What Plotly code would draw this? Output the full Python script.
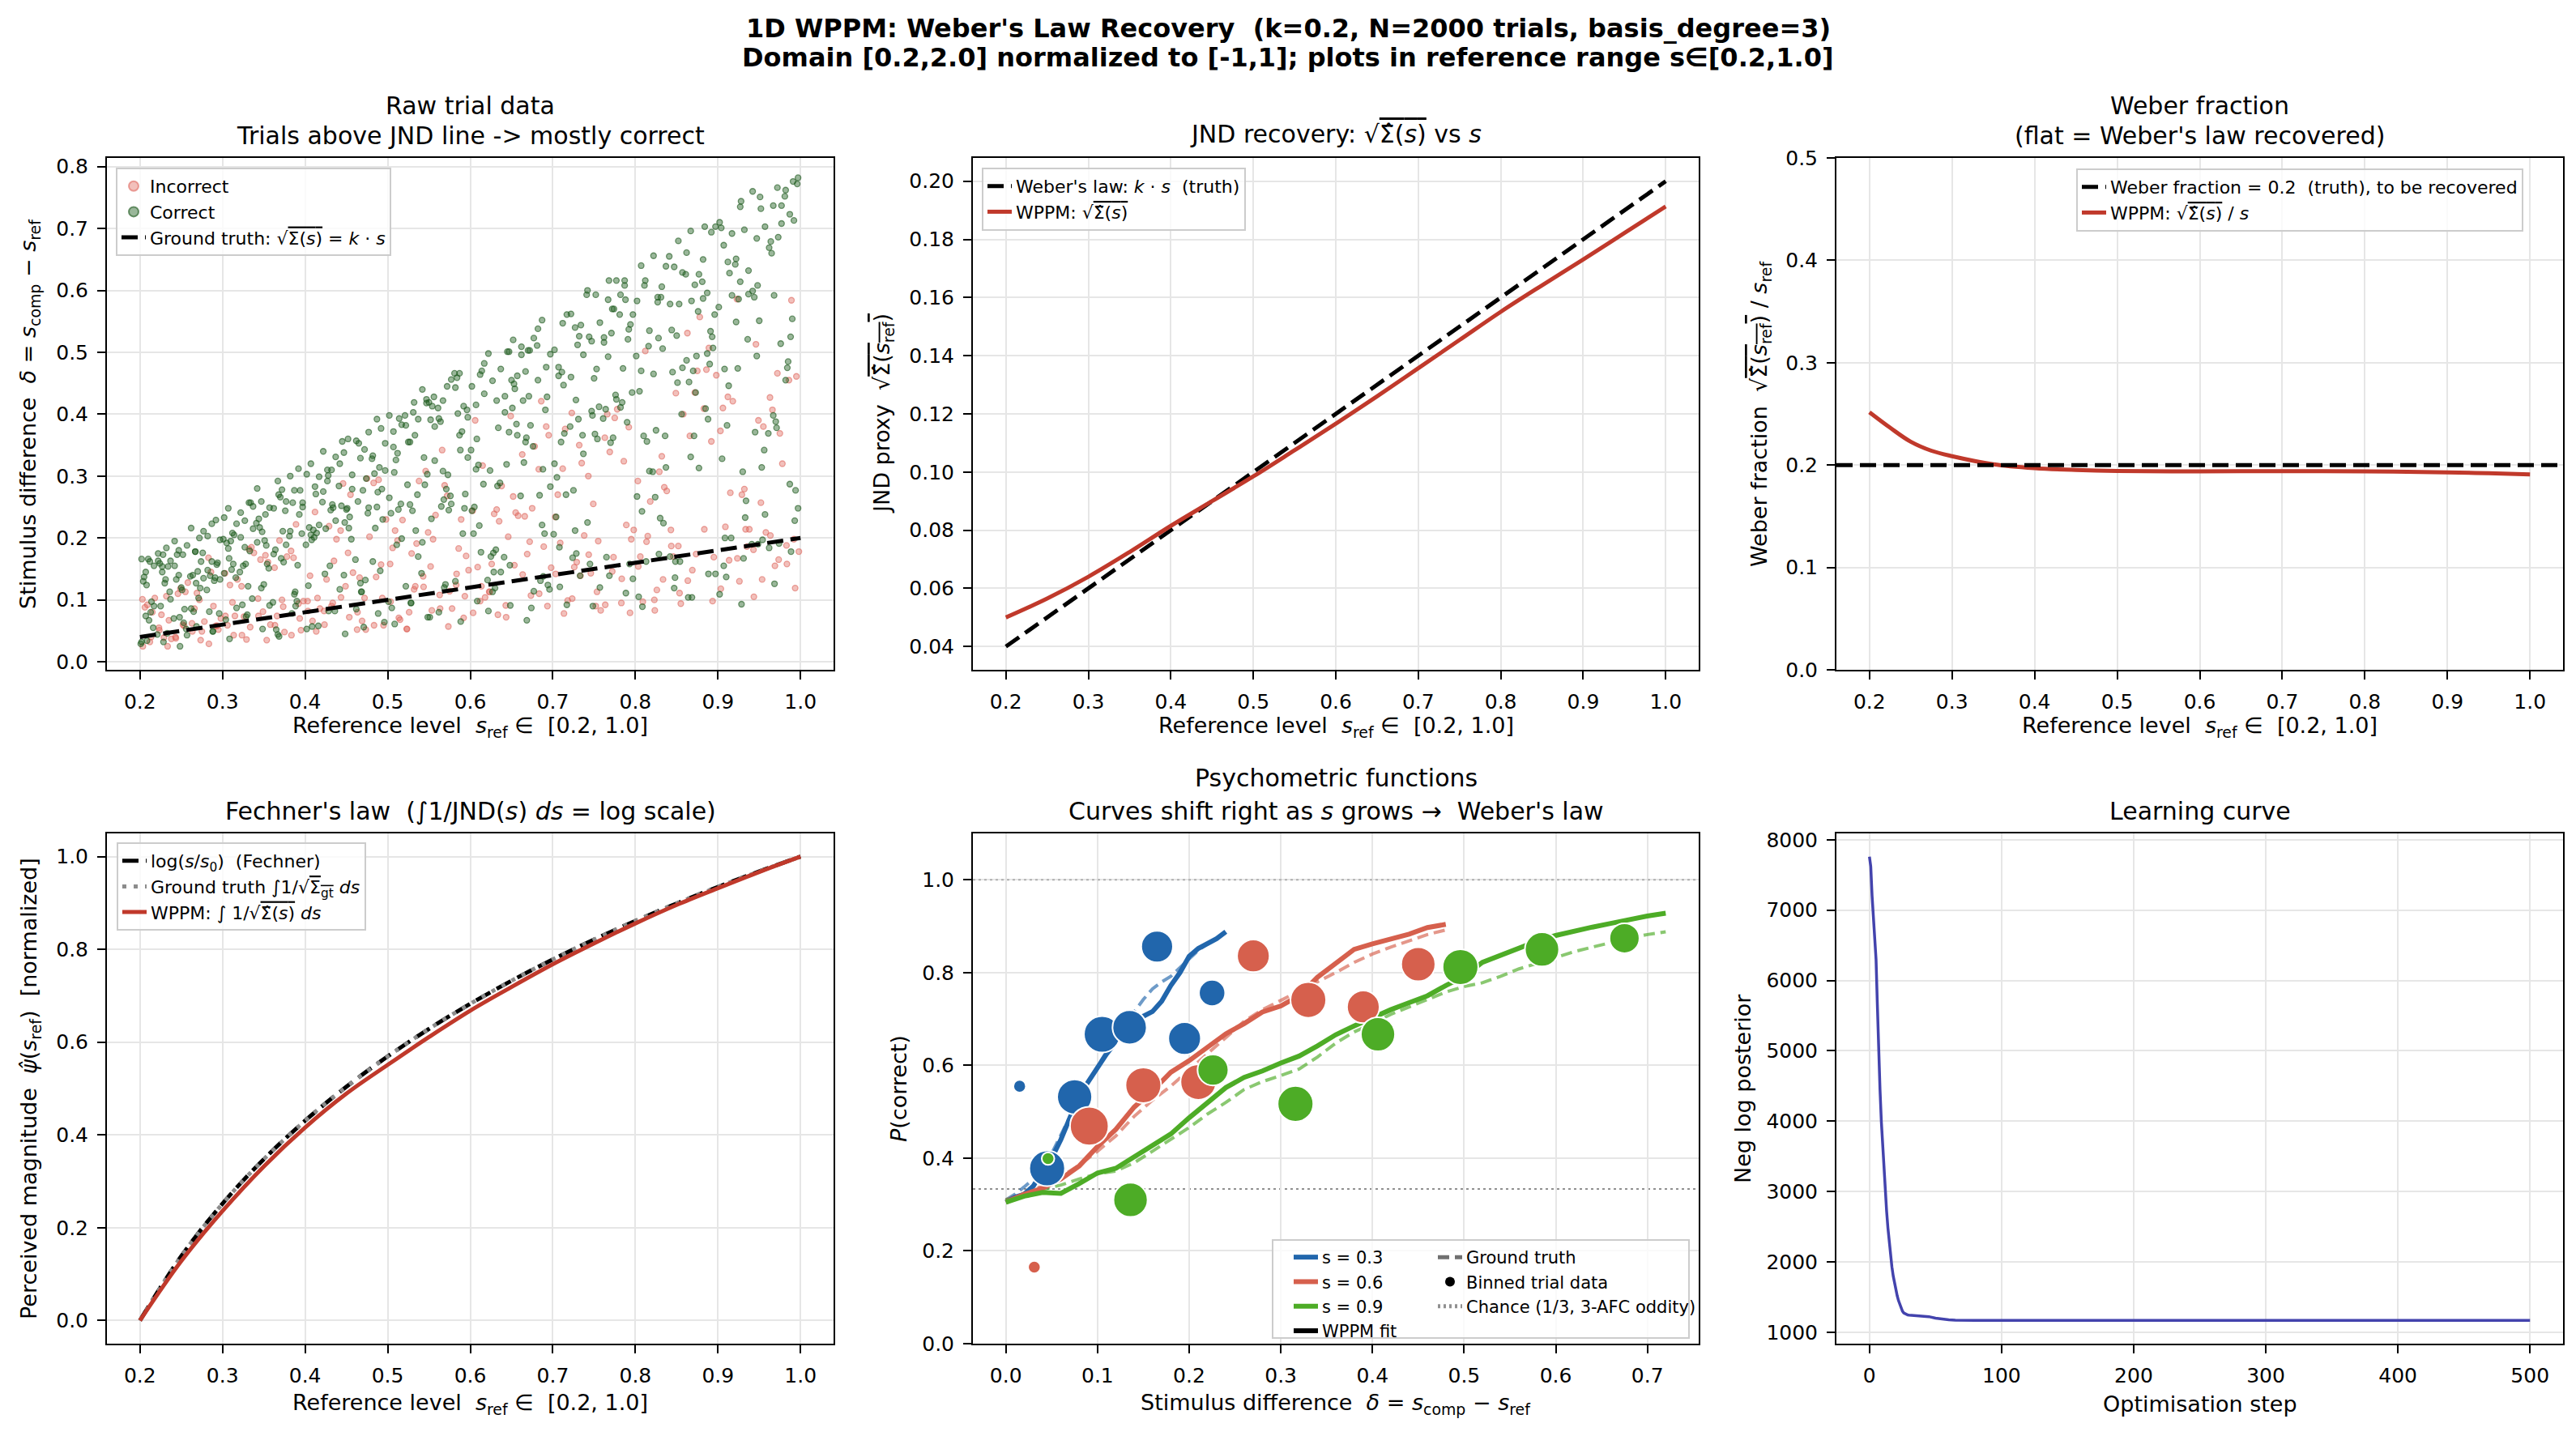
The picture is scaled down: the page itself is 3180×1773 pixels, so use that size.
import plotly.graph_objects as go

W, H = 3180, 1773
FONT = "DejaVu Sans"
NB = "\u00a0"

# ---------------- data ----------------
# Panel 1: raw trials (s_ref, delta) -- estimated subset of the point cloud
trials_correct = [
 (0.201,0.029),(0.202,0.032),(0.204,0.130),(0.205,0.137),(0.207,0.074),(0.208,0.124),(0.21,0.166),(0.211,0.067),(0.213,0.080),(0.214,0.097),(0.216,0.055),(0.217,0.090),
 (0.221,0.044),(0.222,0.163),(0.224,0.159),(0.225,0.090),(0.227,0.145),(0.228,0.173),(0.23,0.127),(0.231,0.133),(0.233,0.046),(0.234,0.154),(0.236,0.113),(0.237,0.101),
 (0.241,0.070),(0.242,0.155),(0.244,0.133),(0.245,0.173),(0.247,0.140),(0.248,0.072),(0.25,0.120),(0.251,0.116),(0.253,0.063),(0.254,0.085),(0.256,0.053),(0.257,0.043),
 (0.261,0.138),(0.262,0.086),(0.264,0.140),(0.265,0.081),(0.267,0.178),(0.268,0.127),(0.27,0.146),(0.271,0.103),(0.273,0.119),(0.274,0.162),(0.276,0.176),(0.277,0.135),
 (0.281,0.116),(0.282,0.148),(0.284,0.081),(0.285,0.139),(0.287,0.162),(0.288,0.049),(0.29,0.131),(0.291,0.136),(0.293,0.157),(0.294,0.160),(0.296,0.078),(0.297,0.133),
 (0.301,0.198),(0.302,0.143),(0.304,0.068),(0.305,0.192),(0.307,0.183),(0.308,0.167),(0.31,0.195),(0.311,0.149),(0.313,0.158),(0.314,0.205),(0.316,0.136),(0.317,0.087),
 (0.321,0.145),(0.322,0.201),(0.324,0.092),(0.325,0.155),(0.327,0.185),(0.328,0.158),(0.33,0.076),(0.331,0.122),(0.333,0.179),(0.334,0.257),(0.336,0.102),(0.337,0.215),
 (0.341,0.224),(0.342,0.193),(0.344,0.231),(0.345,0.217),(0.347,0.119),(0.348,0.210),(0.35,0.125),(0.351,0.196),(0.353,0.188),(0.354,0.158),(0.356,0.151),(0.357,0.091),
 (0.361,0.096),(0.362,0.174),(0.364,0.181),(0.365,0.052),(0.367,0.044),(0.368,0.270),(0.37,0.266),(0.371,0.167),(0.373,0.211),(0.374,0.161),(0.376,0.244),(0.377,0.189),
 (0.381,0.203),(0.382,0.211),(0.384,0.078),(0.385,0.257),(0.387,0.109),(0.388,0.113),(0.39,0.098),(0.391,0.156),(0.393,0.238),(0.394,0.277),(0.396,0.207),(0.397,0.250),
 (0.401,0.189),(0.402,0.053),(0.404,0.123),(0.405,0.217),(0.407,0.205),(0.408,0.197),(0.41,0.213),(0.411,0.201),(0.413,0.271),(0.414,0.208),(0.416,0.058),(0.417,0.221),
 (0.421,0.258),(0.422,0.275),(0.424,0.142),(0.425,0.215),(0.427,0.310),(0.428,0.301),(0.43,0.155),(0.431,0.245),(0.433,0.254),(0.434,0.249),(0.436,0.082),(0.437,0.228),
 (0.441,0.284),(0.442,0.117),(0.444,0.252),(0.445,0.356),(0.447,0.140),(0.448,0.225),(0.45,0.246),(0.451,0.248),(0.453,0.216),(0.454,0.234),(0.456,0.198),(0.457,0.279),
 (0.461,0.165),(0.462,0.085),(0.464,0.259),(0.465,0.353),(0.467,0.127),(0.468,0.113),(0.47,0.277),(0.471,0.056),(0.473,0.132),(0.474,0.296),(0.476,0.240),(0.477,0.249),
 (0.481,0.328),(0.482,0.162),(0.484,0.304),(0.485,0.216),(0.487,0.250),(0.488,0.274),(0.49,0.314),(0.491,0.147),(0.493,0.279),(0.494,0.230),(0.496,0.064),(0.497,0.309),
 (0.501,0.097),(0.502,0.265),(0.504,0.240),(0.505,0.087),(0.507,0.347),(0.508,0.306),(0.51,0.326),(0.511,0.189),(0.513,0.246),(0.514,0.393),(0.516,0.255),(0.517,0.199),
 (0.521,0.398),(0.522,0.122),(0.524,0.286),(0.525,0.355),(0.527,0.254),(0.528,0.095),(0.53,0.244),(0.531,0.403),(0.533,0.366),(0.534,0.212),(0.536,0.270),(0.537,0.170),
 (0.541,0.143),(0.542,0.193),(0.544,0.330),(0.545,0.286),(0.547,0.424),(0.548,0.303),(0.55,0.419),(0.551,0.072),(0.553,0.231),(0.554,0.413),(0.556,0.428),(0.557,0.325),
 (0.561,0.410),(0.562,0.080),(0.564,0.388),(0.565,0.251),(0.567,0.308),(0.568,0.262),(0.57,0.125),(0.571,0.279),(0.573,0.302),(0.574,0.245),(0.576,0.268),(0.577,0.255),
 (0.581,0.466),(0.582,0.130),(0.584,0.459),(0.585,0.401),(0.587,0.366),(0.588,0.342),(0.59,0.372),(0.591,0.207),(0.593,0.248),(0.594,0.271),(0.596,0.407),(0.597,0.330),
 (0.601,0.342),(0.602,0.244),(0.604,0.207),(0.605,0.250),(0.607,0.311),(0.608,0.360),(0.61,0.318),(0.611,0.220),(0.613,0.177),(0.614,0.470),(0.616,0.287),(0.617,0.433),
 (0.621,0.132),(0.622,0.082),(0.624,0.309),(0.625,0.170),(0.627,0.113),(0.628,0.176),(0.63,0.119),(0.631,0.181),(0.633,0.284),(0.634,0.378),(0.636,0.289),(0.637,0.145),
 (0.641,0.169),(0.642,0.403),(0.644,0.319),(0.645,0.501),(0.647,0.371),(0.648,0.156),(0.65,0.455),(0.651,0.410),(0.653,0.449),(0.654,0.441),(0.656,0.384),(0.657,0.366),
 (0.661,0.268),(0.662,0.509),(0.664,0.422),(0.665,0.322),(0.667,0.355),(0.668,0.362),(0.67,0.503),(0.671,0.429),(0.673,0.382),(0.674,0.087),(0.676,0.348),(0.677,0.114),
 (0.681,0.511),(0.682,0.455),(0.684,0.269),(0.685,0.131),(0.687,0.221),(0.688,0.311),(0.69,0.207),(0.691,0.407),(0.693,0.428),(0.694,0.124),(0.696,0.117),(0.697,0.283),
 (0.701,0.206),(0.702,0.320),(0.704,0.234),(0.705,0.298),(0.707,0.462),(0.708,0.185),(0.71,0.355),(0.711,0.468),(0.713,0.447),(0.714,0.369),(0.716,0.270),(0.717,0.092),
 (0.721,0.380),(0.722,0.460),(0.724,0.168),(0.725,0.277),(0.727,0.212),(0.728,0.423),(0.73,0.512),(0.731,0.392),(0.733,0.139),(0.734,0.544),(0.736,0.366),(0.737,0.336),
 (0.741,0.593),(0.742,0.225),(0.744,0.525),(0.745,0.158),(0.747,0.405),(0.748,0.398),(0.75,0.458),(0.751,0.368),(0.753,0.473),(0.754,0.360),(0.756,0.412),(0.757,0.120),
 (0.761,0.393),(0.762,0.524),(0.764,0.408),(0.765,0.169),(0.767,0.493),(0.768,0.616),(0.77,0.354),(0.771,0.531),(0.773,0.362),(0.774,0.570),(0.776,0.431),(0.777,0.424),
 (0.781,0.561),(0.782,0.411),(0.784,0.419),(0.785,0.474),(0.787,0.608),(0.788,0.585),(0.79,0.387),(0.791,0.521),(0.793,0.158),(0.794,0.545),(0.796,0.435),(0.797,0.134),
 (0.801,0.494),(0.802,0.267),(0.804,0.105),(0.805,0.437),(0.807,0.470),(0.808,0.243),(0.81,0.365),(0.811,0.608),(0.813,0.162),(0.814,0.356),(0.816,0.510),(0.817,0.308),
 (0.821,0.307),(0.822,0.465),(0.824,0.266),(0.825,0.374),(0.827,0.581),(0.828,0.523),(0.83,0.232),(0.831,0.589),(0.833,0.506),(0.834,0.224),(0.836,0.365),(0.837,0.314),
 (0.841,0.655),(0.842,0.170),(0.844,0.536),(0.845,0.468),(0.847,0.119),(0.848,0.136),(0.85,0.527),(0.851,0.451),(0.853,0.578),(0.854,0.162),(0.856,0.400),(0.857,0.475),
 (0.861,0.626),(0.862,0.487),(0.864,0.104),(0.865,0.452),(0.867,0.331),(0.868,0.583),(0.87,0.470),(0.871,0.365),(0.873,0.435),(0.874,0.494),(0.876,0.566),(0.877,0.313),
 (0.881,0.614),(0.882,0.587),(0.884,0.703),(0.885,0.409),(0.887,0.498),(0.888,0.392),(0.89,0.481),(0.891,0.534),(0.893,0.525),(0.894,0.507),(0.896,0.561),(0.897,0.142),
 (0.901,0.573),(0.902,0.109),(0.904,0.701),(0.905,0.328),(0.907,0.155),(0.908,0.473),(0.91,0.137),(0.911,0.382),(0.913,0.446),(0.914,0.628),(0.916,0.200),(0.917,0.592),
 (0.921,0.642),(0.922,0.549),(0.924,0.474),(0.925,0.586),(0.927,0.614),(0.928,0.744),(0.93,0.307),(0.931,0.167),(0.933,0.233),(0.934,0.260),(0.936,0.521),(0.937,0.594),
 (0.941,0.190),(0.942,0.599),(0.944,0.589),(0.945,0.371),(0.947,0.494),(0.948,0.608),(0.95,0.551),(0.951,0.751),(0.953,0.314),(0.954,0.197),(0.956,0.342),(0.957,0.238),
 (0.961,0.369),(0.962,0.184),(0.964,0.679),(0.965,0.660),(0.967,0.398),(0.968,0.592),(0.97,0.388),(0.971,0.378),(0.973,0.686),(0.974,0.191),(0.976,0.514),(0.977,0.737),
 (0.981,0.752),(0.982,0.455),(0.984,0.475),(0.985,0.485),(0.987,0.287),(0.988,0.525),(0.99,0.554),(0.991,0.776),(0.993,0.228),(0.994,0.277),(0.996,0.772),(0.997,0.248),
]
trials_correct_upper = [
 (0.202,0.166),(0.207,0.145),(0.212,0.162),(0.217,0.155),(0.222,0.175),(0.227,0.154),(0.232,0.184),(0.237,0.163),
 (0.242,0.195),(0.247,0.180),(0.252,0.173),(0.257,0.188),(0.262,0.216),(0.267,0.178),(0.272,0.200),(0.277,0.211),
 (0.282,0.203),(0.287,0.223),(0.292,0.229),(0.297,0.197),(0.302,0.233),(0.307,0.248),(0.312,0.208),(0.317,0.223),
 (0.322,0.241),(0.327,0.228),(0.332,0.257),(0.337,0.251),(0.342,0.280),(0.347,0.259),(0.352,0.238),(0.357,0.249),
 (0.362,0.248),(0.367,0.292),(0.372,0.278),(0.377,0.259),(0.382,0.300),(0.387,0.277),(0.392,0.312),(0.397,0.257),
 (0.402,0.303),(0.407,0.320),(0.412,0.283),(0.417,0.299),(0.422,0.340),(0.427,0.292),(0.432,0.310),(0.437,0.331),
 (0.442,0.320),(0.447,0.338),(0.452,0.360),(0.457,0.302),(0.462,0.357),(0.467,0.329),(0.472,0.343),(0.477,0.371),
 (0.482,0.333),(0.487,0.392),(0.492,0.377),(0.497,0.353),(0.502,0.398),(0.507,0.372),(0.512,0.337),(0.517,0.383),
 (0.522,0.382),(0.527,0.355),(0.532,0.419),(0.537,0.392),(0.542,0.440),(0.547,0.418),(0.552,0.391),(0.557,0.380),
 (0.562,0.393),(0.567,0.422),(0.572,0.445),(0.577,0.456),(0.582,0.443),(0.587,0.466),(0.592,0.413),(0.597,0.395),
 (0.602,0.445),(0.607,0.415),(0.612,0.464),(0.617,0.482),(0.622,0.498),(0.627,0.454),(0.632,0.422),(0.637,0.473),
 (0.642,0.429),(0.647,0.501),(0.652,0.520),(0.657,0.462),(0.662,0.496),(0.667,0.469),(0.672,0.503),(0.677,0.523),
 (0.682,0.538),(0.687,0.552),(0.692,0.476),(0.697,0.497),(0.702,0.504),(0.707,0.476),(0.712,0.547),(0.717,0.561),
 (0.722,0.562),(0.727,0.540),(0.732,0.526),(0.737,0.496),(0.742,0.600),(0.747,0.518),(0.752,0.593),(0.757,0.548),
 (0.762,0.516),(0.767,0.585),(0.772,0.570),(0.777,0.616),(0.782,0.593),(0.787,0.616),(0.792,0.537),(0.797,0.561),
 (0.802,0.583),(0.807,0.640),(0.812,0.616),(0.817,0.535),(0.822,0.656),(0.827,0.589),(0.832,0.606),(0.837,0.639),
 (0.842,0.578),(0.847,0.638),(0.852,0.680),(0.857,0.629),(0.862,0.661),(0.867,0.696),(0.872,0.609),(0.877,0.626),
 (0.882,0.650),(0.887,0.596),(0.892,0.694),(0.897,0.703),(0.902,0.710),(0.907,0.673),(0.912,0.646),(0.917,0.692),
 (0.922,0.651),(0.927,0.735),(0.932,0.698),(0.937,0.632),(0.942,0.760),(0.947,0.684),(0.952,0.732),(0.957,0.703),
 (0.962,0.669),(0.967,0.737),(0.972,0.766),(0.977,0.708),(0.982,0.762),(0.987,0.723),(0.992,0.713),(0.997,0.782),
]
trials_correct_low = [
 (0.2085,0.034),(0.2285,0.032),(0.2485,0.025),(0.2685,0.057),(0.2885,0.049),(0.3085,0.037),(0.3285,0.073),(0.3485,0.053),
 (0.3685,0.041),(0.3885,0.090),(0.4085,0.057),(0.4285,0.082),(0.4485,0.045),(0.4685,0.113),(0.4885,0.078),(0.5085,0.061),
 (0.5285,0.095),(0.5485,0.072),(0.5685,0.120),(0.5885,0.065),(0.6085,0.098),(0.6285,0.145),(0.6485,0.091),(0.6685,0.067),
 (0.6885,0.138),(0.7085,0.121),(0.7285,0.175),(0.7485,0.090),(0.7685,0.139),(0.7885,0.111),(0.8085,0.089),(0.8285,0.174),
 (0.8485,0.162),(0.8685,0.104),(0.8885,0.142),(0.9085,0.200),(0.9285,0.093),(0.9485,0.190),(0.9685,0.126),(0.9885,0.178),
]
trials_incorrect = [
 (0.203,0.101),(0.206,0.088),(0.209,0.092),(0.212,0.032),(0.215,0.080),(0.218,0.103),
 (0.223,0.055),(0.226,0.076),(0.229,0.039),(0.232,0.106),(0.235,0.067),(0.238,0.037),
 (0.243,0.040),(0.246,0.110),(0.249,0.118),(0.252,0.060),(0.255,0.113),(0.258,0.128),
 (0.263,0.062),(0.266,0.086),(0.269,0.111),(0.272,0.100),(0.275,0.049),(0.278,0.065),
 (0.283,0.168),(0.286,0.145),(0.289,0.090),(0.292,0.058),(0.295,0.052),(0.298,0.070),
 (0.303,0.143),(0.306,0.059),(0.309,0.124),(0.312,0.096),(0.315,0.074),(0.318,0.133),
 (0.323,0.122),(0.326,0.073),(0.329,0.036),(0.332,0.182),(0.335,0.185),(0.338,0.176),
 (0.343,0.102),(0.346,0.165),(0.349,0.081),(0.352,0.172),(0.355,0.161),(0.358,0.060),
 (0.363,0.152),(0.366,0.074),(0.369,0.196),(0.372,0.100),(0.375,0.048),(0.378,0.170),
 (0.383,0.179),(0.386,0.168),(0.389,0.222),(0.392,0.094),(0.395,0.051),(0.398,0.098),
 (0.403,0.098),(0.406,0.139),(0.409,0.066),(0.412,0.242),(0.415,0.103),(0.418,0.086),
 (0.423,0.082),(0.426,0.133),(0.429,0.219),(0.432,0.090),(0.435,0.163),(0.438,0.198),
 (0.443,0.212),(0.446,0.288),(0.449,0.122),(0.452,0.176),(0.455,0.270),(0.458,0.144),
 (0.463,0.052),(0.466,0.136),(0.469,0.066),(0.472,0.103),(0.475,0.296),(0.478,0.202),
 (0.483,0.289),(0.486,0.137),(0.489,0.294),(0.492,0.157),(0.495,0.059),(0.498,0.230),
 (0.503,0.158),(0.506,0.184),(0.509,0.212),(0.512,0.196),(0.515,0.068),(0.518,0.229),
 (0.523,0.053),(0.526,0.080),(0.529,0.175),(0.532,0.117),(0.535,0.191),(0.538,0.292),
 (0.543,0.138),(0.546,0.308),(0.549,0.209),(0.552,0.154),(0.555,0.198),(0.558,0.237),
 (0.563,0.108),(0.566,0.342),(0.569,0.285),(0.572,0.268),(0.575,0.114),(0.578,0.086),
 (0.583,0.124),(0.586,0.183),(0.589,0.230),(0.592,0.071),(0.595,0.171),(0.598,0.148),
 (0.603,0.244),(0.606,0.390),(0.609,0.153),(0.612,0.098),(0.615,0.317),(0.618,0.104),
 (0.623,0.113),(0.626,0.158),(0.629,0.239),(0.632,0.246),(0.635,0.227),(0.638,0.284),
 (0.643,0.091),(0.646,0.202),(0.649,0.397),(0.652,0.267),(0.655,0.241),(0.658,0.236),
 (0.663,0.335),(0.666,0.235),(0.669,0.174),(0.672,0.194),(0.675,0.248),(0.678,0.348),
 (0.683,0.311),(0.686,0.421),(0.689,0.186),(0.692,0.380),(0.695,0.366),(0.698,0.152),
 (0.703,0.234),(0.706,0.270),(0.709,0.192),(0.712,0.312),(0.715,0.376),(0.718,0.099),
 (0.723,0.402),(0.726,0.153),(0.729,0.161),(0.732,0.350),(0.735,0.321),(0.738,0.204),
 (0.743,0.300),(0.746,0.143),(0.749,0.255),(0.752,0.090),(0.755,0.195),(0.758,0.083),
 (0.763,0.362),(0.766,0.400),(0.769,0.339),(0.772,0.146),(0.775,0.394),(0.778,0.408),
 (0.783,0.095),(0.786,0.324),(0.789,0.221),(0.792,0.379),(0.795,0.198),(0.798,0.213),
 (0.803,0.292),(0.806,0.170),(0.809,0.097),(0.812,0.502),(0.815,0.203),(0.818,0.259),
 (0.823,0.100),(0.826,0.116),(0.829,0.307),(0.832,0.332),(0.835,0.282),(0.838,0.276),
 (0.843,0.213),(0.846,0.170),(0.849,0.434),(0.852,0.187),(0.855,0.094),(0.858,0.400),
 (0.863,0.531),(0.866,0.365),(0.869,0.148),(0.872,0.435),(0.875,0.470),(0.878,0.557),
 (0.883,0.409),(0.886,0.472),(0.889,0.507),(0.892,0.356),(0.895,0.169),(0.898,0.463),
 (0.903,0.373),(0.906,0.410),(0.909,0.218),(0.912,0.428),(0.915,0.273),(0.918,0.421),
 (0.923,0.586),(0.926,0.130),(0.929,0.270),(0.932,0.279),(0.935,0.186),(0.938,0.214),
 (0.943,0.181),(0.946,0.513),(0.949,0.390),(0.952,0.257),(0.955,0.380),(0.958,0.209),
 (0.963,0.427),(0.966,0.407),(0.969,0.155),(0.972,0.466),(0.975,0.369),(0.978,0.320),
 (0.983,0.188),(0.986,0.455),(0.989,0.584),(0.992,0.198),(0.995,0.461),(0.998,0.178),
]
trials_incorrect_low = [
 (0.2035,0.025),(0.2135,0.040),(0.2235,0.051),(0.2335,0.025),(0.2435,0.038),(0.2535,0.058),(0.2635,0.049),(0.2735,0.035),
 (0.2835,0.029),(0.2935,0.058),(0.3035,0.074),(0.3135,0.043),(0.3235,0.043),(0.3335,0.056),(0.3435,0.074),(0.3535,0.035),
 (0.3635,0.059),(0.3735,0.089),(0.3835,0.043),(0.3935,0.070),(0.4035,0.082),(0.4135,0.049),(0.4235,0.060),(0.4335,0.095),
 (0.4435,0.104),(0.4535,0.072),(0.4635,0.080),(0.4735,0.052),(0.4835,0.059),(0.4935,0.103),(0.5035,0.097),(0.5135,0.071),
 (0.5235,0.053),(0.5335,0.122),(0.5435,0.121),(0.5535,0.083),(0.5635,0.086),(0.5735,0.057),(0.5835,0.142),(0.5935,0.106),
 (0.6035,0.079),(0.6135,0.122),(0.6235,0.113),(0.6335,0.076),(0.6435,0.072),(0.6535,0.156),(0.6635,0.141),(0.6735,0.107),
 (0.6835,0.110),(0.6935,0.090),(0.7035,0.142),(0.7135,0.078),(0.7235,0.102),(0.7335,0.139),(0.7435,0.173),(0.7535,0.113),
 (0.7635,0.092),(0.7735,0.169),(0.7835,0.134),(0.7935,0.079),(0.8035,0.154),(0.8135,0.194),(0.8235,0.083),(0.8335,0.133),
 (0.8435,0.187),(0.8535,0.111),(0.8635,0.131),(0.8735,0.174),(0.8835,0.214),(0.8935,0.098),(0.9035,0.118),(0.9135,0.164),
 (0.9235,0.167),(0.9335,0.214),(0.9435,0.105),(0.9535,0.133),(0.9635,0.204),(0.9735,0.165),(0.9835,0.158),(0.9935,0.119),
]
gt_s = [0.2, 1.0]
gt_jnd = [0.04, 0.2]

# Panel 2: JND recovery
jnd_s = [0.2, 0.25, 0.3, 0.35, 0.4, 0.45, 0.5, 0.55, 0.6, 0.65, 0.7, 0.75, 0.8, 0.85, 0.9, 0.95, 1.0]
jnd_wppm = [0.050, 0.0565, 0.064, 0.0725, 0.0815, 0.090, 0.0985, 0.1075, 0.1166, 0.126, 0.1357,
            0.1454, 0.1551, 0.1642, 0.1731, 0.1822, 0.1913]

# Panel 3: Weber fraction
WEBER_K = 0.2
wf_s = [0.2, 0.225, 0.25, 0.275, 0.3, 0.35, 0.4, 0.45, 0.5, 0.6, 0.7, 0.8, 0.9, 0.95, 1.0]
wf_wppm = [0.2516, 0.2365, 0.2228, 0.2140, 0.2087, 0.2008, 0.1970, 0.1952, 0.1942, 0.1938,
           0.1941, 0.1939, 0.1928, 0.1920, 0.1909]

# Panel 4: Fechner
fe_s = [0.2, 0.25, 0.3, 0.35, 0.4, 0.45, 0.5, 0.55, 0.6, 0.65, 0.7, 0.75, 0.8, 0.85, 0.9, 0.95, 1.0]
fe_log = [0.0, 0.1386, 0.2519, 0.3477, 0.4307, 0.5039, 0.5693, 0.6286, 0.6826, 0.7324, 0.7784,
          0.8213, 0.8614, 0.8990, 0.9346, 0.9681, 1.0]
fe_gt = [0.0, 0.1386, 0.2519, 0.3477, 0.4307, 0.5039, 0.5693, 0.6286, 0.6826, 0.7324, 0.7784,
         0.8213, 0.8614, 0.8990, 0.9346, 0.9681, 1.0]
fe_wppm = [0.0, 0.128, 0.236, 0.332, 0.416, 0.489, 0.551, 0.611, 0.668, 0.719, 0.768, 0.813,
           0.856, 0.896, 0.932, 0.967, 1.0]

# Panel 5: psychometric functions
psy_d_03 = [0, 0.01, 0.02, 0.03, 0.04, 0.05, 0.06, 0.07, 0.08, 0.09, 0.10, 0.11, 0.12, 0.13,
            0.14, 0.15, 0.16, 0.17, 0.18, 0.19, 0.20, 0.21, 0.22, 0.23, 0.24]
psy_fit_03 = [0.305, 0.316, 0.322, 0.34, 0.372, 0.40, 0.44, 0.49, 0.535, 0.565, 0.595, 0.625, 0.65,
              0.675, 0.698, 0.706, 0.716, 0.738, 0.772, 0.80, 0.835, 0.852, 0.862, 0.873, 0.888]
psy_gt_03 = [0.31, 0.322, 0.338, 0.355, 0.38, 0.41, 0.45, 0.49, 0.53, 0.565, 0.598, 0.63, 0.658,
             0.685, 0.715, 0.742, 0.765, 0.78, 0.792, 0.81, 0.83, 0.848, 0.862, 0.874, 0.886]
psy_d_06 = [0, 0.02, 0.04, 0.06, 0.08, 0.10, 0.12, 0.14, 0.16, 0.18, 0.20, 0.22, 0.24, 0.26,
            0.28, 0.30, 0.32, 0.34, 0.36, 0.38, 0.40, 0.42, 0.44, 0.46, 0.48]
psy_fit_06 = [0.305, 0.322, 0.335, 0.355, 0.383, 0.425, 0.462, 0.51, 0.545, 0.585, 0.61, 0.64, 0.668,
              0.69, 0.715, 0.728, 0.75, 0.79, 0.82, 0.85, 0.862, 0.872, 0.883, 0.897, 0.904]
psy_gt_06 = [0.31, 0.325, 0.34, 0.36, 0.385, 0.415, 0.448, 0.49, 0.525, 0.555, 0.59, 0.625, 0.66,
             0.695, 0.72, 0.74, 0.76, 0.78, 0.80, 0.822, 0.84, 0.855, 0.868, 0.882, 0.892]
psy_d_09 = [0, 0.02, 0.04, 0.06, 0.08, 0.10, 0.12, 0.14, 0.16, 0.18, 0.20, 0.22, 0.24, 0.26, 0.28,
            0.30, 0.32, 0.34, 0.36, 0.38, 0.40, 0.42, 0.44, 0.46, 0.48, 0.50, 0.52, 0.54, 0.56,
            0.58, 0.60, 0.62, 0.64, 0.66, 0.68, 0.70, 0.72]
psy_fit_09 = [0.305, 0.318, 0.326, 0.324, 0.345, 0.368, 0.378, 0.402, 0.425, 0.452, 0.487, 0.52,
              0.552, 0.574, 0.588, 0.605, 0.62, 0.642, 0.666, 0.685, 0.703, 0.72, 0.735, 0.75,
              0.772, 0.792, 0.822, 0.837, 0.851, 0.868, 0.88, 0.89, 0.898, 0.906, 0.915, 0.922, 0.928]
psy_gt_09 = [0.31, 0.32, 0.332, 0.342, 0.355, 0.366, 0.372, 0.39, 0.415, 0.44, 0.466, 0.495, 0.52,
             0.548, 0.565, 0.578, 0.592, 0.618, 0.648, 0.672, 0.69, 0.71, 0.726, 0.742, 0.758,
             0.77, 0.778, 0.792, 0.808, 0.82, 0.832, 0.845, 0.855, 0.865, 0.874, 0.882, 0.888]

bin_d_03 = [0.015, 0.045, 0.075, 0.105, 0.135, 0.165, 0.195, 0.225]
bin_p_03 = [0.555, 0.378, 0.532, 0.667, 0.682, 0.856, 0.658, 0.756]
bin_n_03 = [3, 24, 23, 25, 22, 19, 20, 13]
bin_d_06 = [0.031, 0.091, 0.15, 0.21, 0.27, 0.33, 0.39, 0.45]
bin_p_06 = [0.165, 0.469, 0.557, 0.564, 0.836, 0.741, 0.726, 0.818]
bin_n_06 = [3, 28, 24, 24, 20, 24, 20, 22]
bin_d_09 = [0.046, 0.136, 0.226, 0.316, 0.406, 0.496, 0.585, 0.675]
bin_p_09 = [0.399, 0.31, 0.59, 0.517, 0.667, 0.812, 0.85, 0.874]
bin_n_09 = [3, 22, 18, 24, 22, 24, 22, 17]
CHANCE = 1 / 3

# Panel 6: learning curve
lc_step = list(range(0, 31)) + [35, 40, 45, 50, 55, 60, 65, 70, 80, 100, 120, 140, 160, 180, 200,
                                220, 240, 260, 280, 300, 320, 340, 360, 380, 400, 420, 440, 460,
                                480, 500]
lc_val = [7760, 7620, 7200, 6900, 6600, 6300, 5650, 4950, 4450, 4000, 3650, 3300, 2980, 2720, 2480,
          2260, 2080, 1930, 1800, 1690, 1600, 1520, 1450, 1390, 1340, 1300, 1275, 1262, 1252, 1246,
          1243, 1238, 1232, 1222, 1200, 1186, 1178, 1172, 1170, 1169, 1168, 1169, 1168, 1167, 1168,
          1169, 1168, 1167, 1168, 1168, 1169, 1168, 1167, 1168, 1168, 1169, 1168, 1168, 1167, 1168,
          1168]

ref_ticks = [0.2, 0.3, 0.4, 0.5, 0.6, 0.7, 0.8, 0.9, 1.0]

# ---------------- figure ----------------
C_RED = "#c0392b"
C_B, C_R, C_G = "#2166ac", "#d6604d", "#4dac26"
DASH = "20px,9px"
OVL = "<span style='text-decoration:overline'>"

fig = go.Figure()

# Panel 1
inc_all = trials_incorrect + trials_incorrect_low
cor_all = trials_correct + trials_correct_upper + trials_correct_low
fig.add_trace(go.Scatter(
    x=[p[0] for p in inc_all], y=[p[1] for p in inc_all], mode="markers",
    name="Incorrect", legend="legend",
    marker=dict(size=7, color="rgba(225,105,92,0.42)", line=dict(width=1.3, color="rgba(220,95,85,0.55)")),
    xaxis="x", yaxis="y"))
fig.add_trace(go.Scatter(
    x=[p[0] for p in cor_all], y=[p[1] for p in cor_all], mode="markers",
    name="Correct", legend="legend",
    marker=dict(size=7, color="rgba(30,95,30,0.45)", line=dict(width=1.3, color="rgba(25,85,25,0.6)")),
    xaxis="x", yaxis="y"))
fig.add_trace(go.Scatter(
    x=gt_s, y=gt_jnd, mode="lines", legend="legend",
    name="Ground truth: √" + OVL + "Σ(<i>s</i>)</span>" + NB + "=" + NB + "<i>k</i>" + NB + "·" + NB + "<i>s</i>",
    line=dict(color="black", width=5, dash=DASH), xaxis="x", yaxis="y"))

# Panel 2
fig.add_trace(go.Scatter(
    x=gt_s, y=gt_jnd, mode="lines", legend="legend2",
    name="Weber's law: <i>k</i> · <i>s</i>" + NB * 2 + "(truth)",
    line=dict(color="black", width=5, dash=DASH), xaxis="x2", yaxis="y2"))
fig.add_trace(go.Scatter(
    x=jnd_s, y=jnd_wppm, mode="lines", legend="legend2", line_shape="spline",
    name="WPPM: √" + OVL + "Σ̂(<i>s</i>)</span>",
    line=dict(color=C_RED, width=5), xaxis="x2", yaxis="y2"))

# Panel 3
fig.add_trace(go.Scatter(
    x=[None], y=[None], mode="lines", legend="legend3",
    name="Weber fraction = 0.2" + NB * 2 + "(truth), to be recovered",
    line=dict(color="black", width=5, dash=DASH), xaxis="x3", yaxis="y3"))
fig.add_trace(go.Scatter(
    x=wf_s, y=wf_wppm, mode="lines", legend="legend3", line_shape="spline",
    name="WPPM: √" + OVL + "Σ̂(<i>s</i>)</span> / <i>s</i>",
    line=dict(color=C_RED, width=5), xaxis="x3", yaxis="y3"))

# Panel 4
fig.add_trace(go.Scatter(
    x=fe_s, y=fe_log, mode="lines", legend="legend4", line_shape="spline",
    name="log(<i>s</i>/<i>s</i><sub>0</sub>)" + NB * 2 + "(Fechner)",
    line=dict(color="black", width=5, dash=DASH), xaxis="x4", yaxis="y4"))
fig.add_trace(go.Scatter(
    x=fe_s, y=fe_gt, mode="lines", legend="legend4", line_shape="spline",
    name="Ground truth ∫1/√" + OVL + "Σ<sub>gt</sub></span> <i>ds</i>",
    line=dict(color="#8c8c8c", width=5, dash="5px,9px"), xaxis="x4", yaxis="y4"))
fig.add_trace(go.Scatter(
    x=fe_s, y=fe_wppm, mode="lines", legend="legend4", line_shape="spline",
    name="WPPM: ∫ 1/√" + OVL + "Σ̂(<i>s</i>)</span> <i>ds</i>",
    line=dict(color=C_RED, width=5), xaxis="x4", yaxis="y4"))

# Panel 5
for d, gt, col in [(psy_d_03, psy_gt_03, C_B), (psy_d_06, psy_gt_06, C_R), (psy_d_09, psy_gt_09, C_G)]:
    fig.add_trace(go.Scatter(x=d, y=gt, mode="lines", showlegend=False, opacity=0.65,
                             line=dict(color=col, width=4, dash="14px,7px"), xaxis="x5", yaxis="y5"))
for d, fit, col, nm in [(psy_d_03, psy_fit_03, C_B, "s = 0.3"), (psy_d_06, psy_fit_06, C_R, "s = 0.6"),
                        (psy_d_09, psy_fit_09, C_G, "s = 0.9")]:
    fig.add_trace(go.Scatter(x=d, y=fit, mode="lines", name=nm, legend="legend5",
                             line=dict(color=col, width=6), xaxis="x5", yaxis="y5"))
for d, p, n, col in [(bin_d_03, bin_p_03, bin_n_03, C_B), (bin_d_06, bin_p_06, bin_n_06, C_R),
                     (bin_d_09, bin_p_09, bin_n_09, C_G)]:
    fig.add_trace(go.Scatter(x=d, y=p, mode="markers", showlegend=False,
                             marker=dict(size=[9 * v ** 0.5 for v in n], color=col, opacity=1,
                                         line=dict(color="white", width=2)),
                             xaxis="x5", yaxis="y5"))
fig.add_trace(go.Scatter(x=[None], y=[None], mode="lines", name="WPPM fit", legend="legend5",
                         line=dict(color="black", width=6), xaxis="x5", yaxis="y5"))
fig.add_trace(go.Scatter(x=[None], y=[None], mode="lines", name="Ground truth", legend="legend6",
                         line=dict(color="#707070", width=4, dash="14px,7px"), xaxis="x5", yaxis="y5"))
fig.add_trace(go.Scatter(x=[None], y=[None], mode="markers", name="Binned trial data", legend="legend6",
                         marker=dict(color="black", size=16), xaxis="x5", yaxis="y5"))
fig.add_trace(go.Scatter(x=[None], y=[None], mode="lines", name="Chance (1/3, 3-AFC oddity)",
                         legend="legend6", line=dict(color="#909090", width=2, dash="3px,4px"),
                         xaxis="x5", yaxis="y5"))

# Panel 6
fig.add_trace(go.Scatter(x=lc_step, y=lc_val, mode="lines", showlegend=False,
                         line=dict(color="#4343ad", width=3.5), xaxis="x6", yaxis="y6"))

# ---------------- layout ----------------
COLS = [(132, 1029), (1201, 2097), (2267, 3164)]
ROWS = [(195, 827), (1029, 1659)]


def xdom(c):
    return [COLS[c][0] / W, COLS[c][1] / W]


def ydom(r):
    return [1 - ROWS[r][1] / H, 1 - ROWS[r][0] / H]


def ax(**kw):
    d = dict(showline=True, linecolor="black", linewidth=2, mirror=True,
             ticks="outside", ticklen=10, tickwidth=2, tickcolor="black",
             showgrid=True, gridcolor="#e6e6e6", gridwidth=2, zeroline=False,
             tickfont=dict(size=25, color="black", family=FONT),
             automargin=False, ticklabelstandoff=6)
    d.update(kw)
    return d


fig.update_layout(
    width=W, height=H, margin=dict(l=0, r=0, t=0, b=0),
    paper_bgcolor="white", plot_bgcolor="white",
    font=dict(family=FONT, color="black"),
    xaxis=ax(domain=xdom(0), anchor="y", range=[0.16, 1.04], tickvals=ref_ticks, tickformat=".1f"),
    yaxis=ax(domain=ydom(0), anchor="x", range=[-0.013, 0.814], tick0=0, dtick=0.1, tickformat=".1f"),
    xaxis2=ax(domain=xdom(1), anchor="y2", range=[0.16, 1.04], tickvals=ref_ticks, tickformat=".1f"),
    yaxis2=ax(domain=ydom(0), anchor="x2", range=[0.032, 0.208], tick0=0.04, dtick=0.02, tickformat=".2f"),
    xaxis3=ax(domain=xdom(2), anchor="y3", range=[0.16, 1.04], tickvals=ref_ticks, tickformat=".1f"),
    yaxis3=ax(domain=ydom(0), anchor="x3", range=[0, 0.5], tick0=0, dtick=0.1, tickformat=".1f"),
    xaxis4=ax(domain=xdom(0), anchor="y4", range=[0.16, 1.04], tickvals=ref_ticks, tickformat=".1f"),
    yaxis4=ax(domain=ydom(1), anchor="x4", range=[-0.05, 1.05], tick0=0, dtick=0.2, tickformat=".1f"),
    xaxis5=ax(domain=xdom(1), anchor="y5", range=[-0.036, 0.756], tick0=0, dtick=0.1, tickformat=".1f"),
    yaxis5=ax(domain=ydom(1), anchor="x5", range=[0, 1.1], tickvals=[0, 0.2, 0.4, 0.6, 0.8, 1.0], tickformat=".1f"),
    xaxis6=ax(domain=xdom(2), anchor="y6", range=[-25, 525], tick0=0, dtick=100),
    yaxis6=ax(domain=ydom(1), anchor="x6", range=[838, 8090],
              tickvals=[1000, 2000, 3000, 4000, 5000, 6000, 7000, 8000]),
)

LEG_BOX = dict(bgcolor="rgba(255,255,255,0.8)", bordercolor="#cccccc", borderwidth=2,
               xanchor="left", yanchor="top", itemsizing="constant", tracegroupgap=0)
fig.update_layout(
    legend=dict(x=143 / W, y=1 - 207 / H, font=dict(size=22, family=FONT, color="black"), **LEG_BOX),
    legend2=dict(x=1212 / W, y=1 - 207 / H, font=dict(size=22, family=FONT, color="black"), **LEG_BOX),
    legend3=dict(x=2563 / W, y=1 - 208 / H, font=dict(size=22, family=FONT, color="black"), **LEG_BOX),
    legend4=dict(x=144 / W, y=1 - 1040 / H, font=dict(size=22, family=FONT, color="black"), **LEG_BOX),
    legend5=dict(x=1592 / W, y=1 - 1532 / H, xanchor="left", yanchor="top", bgcolor="rgba(0,0,0,0)",
                 borderwidth=0, font=dict(size=21, family=FONT, color="black"), tracegroupgap=0),
    legend6=dict(x=1770 / W, y=1 - 1532 / H, xanchor="left", yanchor="top", bgcolor="rgba(0,0,0,0)",
                 borderwidth=0, font=dict(size=21, family=FONT, color="black"), tracegroupgap=0,
                 itemsizing="constant"),
)

shapes = [
    dict(type="line", xref="x3 domain", x0=0, x1=1, yref="y3", y0=WEBER_K, y1=WEBER_K,
         line=dict(color="black", width=5, dash=DASH), layer="above"),
    dict(type="line", xref="x5 domain", x0=0, x1=1, yref="y5", y0=CHANCE, y1=CHANCE,
         line=dict(color="#909090", width=2, dash="3px,4px"), layer="below"),
    dict(type="line", xref="x5 domain", x0=0, x1=1, yref="y5", y0=1.0, y1=1.0,
         line=dict(color="#b0b0b0", width=2, dash="3px,4px"), layer="above"),
    dict(type="rect", xref="paper", yref="paper", x0=1571 / W, x1=2085 / W, y0=1 - 1652 / H, y1=1 - 1531 / H,
         fillcolor="rgba(255,255,255,0.8)", line=dict(color="#cccccc", width=2), layer="above"),
]
fig.update_layout(shapes=shapes)

anns = []


def text_at(txt, xpx, ypx, size, bold=False, angle=0):
    if bold:
        txt = "<b>" + txt + "</b>"
    anns.append(dict(text=txt, x=xpx / W, y=1 - ypx / H, xref="paper", yref="paper",
                     xanchor="center", yanchor="middle", showarrow=False, textangle=angle,
                     font=dict(size=size, family=FONT, color="black")))


# suptitle
text_at("1D WPPM: Weber's Law Recovery" + NB * 2 + "(k=0.2, N=2000 trials, basis_degree=3)", 1590, 35, 32, bold=True)
text_at("Domain [0.2,2.0] normalized to [-1,1]; plots in reference range s∈[0.2,1.0]", 1590, 71, 32, bold=True)

# subplot titles
cx = [(a + b) / 2 for a, b in COLS]
text_at("Raw trial data", cx[0], 131, 30)
text_at("Trials above JND line -> mostly correct", cx[0], 167, 30)
text_at("JND recovery: √" + OVL + "Σ̂(<i>s</i>)</span> vs <i>s</i>", cx[1], 166, 30)
text_at("Weber fraction", cx[2], 131, 30)
text_at("(flat = Weber's law recovered)", cx[2], 167, 30)
text_at("Fechner's law" + NB * 2 + "(∫1/JND(<i>s</i>) <i>ds</i> = log scale)", cx[0], 1001, 30)
text_at("Psychometric functions", cx[1], 961, 30)
text_at("Curves shift right as <i>s</i> grows " + "→" + NB + " Weber's law", cx[1], 1001, 30)
text_at("Learning curve", cx[2], 1001, 30)

# axis titles
xlab_ref = "Reference level" + NB * 2 + "<i>s</i><sub>ref</sub> ∈" + NB * 2 + "[0.2, 1.0]"
for c in range(3):
    text_at(xlab_ref, cx[c], 898, 27)
text_at(xlab_ref, cx[0], 1733, 27)
text_at("Stimulus difference" + NB * 2 + "<i>δ</i> = <i>s</i><sub>comp</sub> − <i>s</i><sub>ref</sub>", cx[1], 1733, 27)
text_at("Optimisation step", cx[2], 1733, 27)

ry = [(a + b) / 2 for a, b in ROWS]
text_at("Stimulus difference" + NB * 2 + "<i>δ</i> = <i>s</i><sub>comp</sub> − <i>s</i><sub>ref</sub>", 37, ry[0], 27, angle=-90)
text_at("JND proxy" + NB * 2 + "√" + OVL + "Σ̂(<i>s</i><sub>ref</sub>)</span>", 1091, ry[0], 27, angle=-90)
text_at("Weber fraction" + NB * 2 + "√" + OVL + "Σ̂(<i>s</i><sub>ref</sub>)</span> / <i>s</i><sub>ref</sub>", 2174, ry[0], 27, angle=-90)
text_at("Perceived magnitude" + NB * 2 + "<i>ψ̂</i>(<i>s</i><sub>ref</sub>)" + NB * 2 + "[normalized]", 37, ry[1], 27, angle=-90)
text_at("<i>P</i>(correct)", 1109, ry[1], 27, angle=-90)
text_at("Neg log posterior", 2151, ry[1], 27, angle=-90)

fig.update_layout(annotations=anns)

fig.write_html("out.html")
